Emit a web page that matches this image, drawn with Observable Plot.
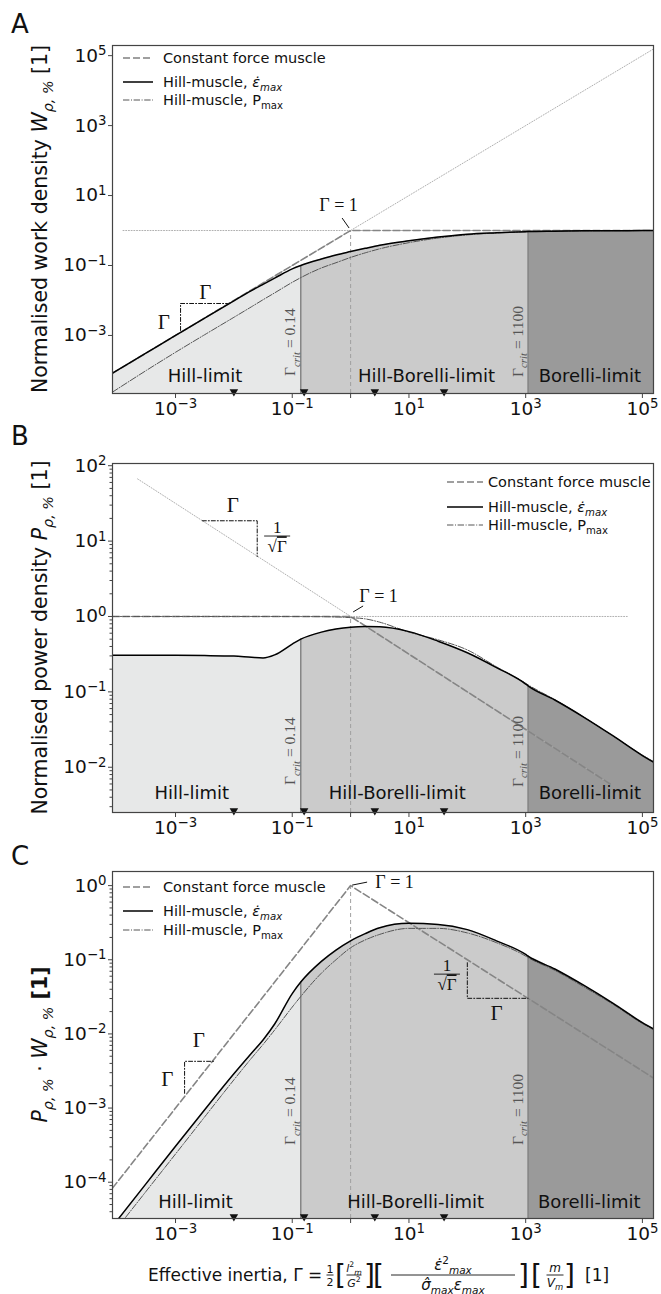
<!DOCTYPE html>
<html><head><meta charset="utf-8">
<script src="https://cdn.jsdelivr.net/npm/d3@7"></script>
<script src="https://cdn.jsdelivr.net/npm/@observablehq/plot@0.6"></script>
<style>
body{margin:0;background:#fff;width:661px;}
svg{display:block;}
</style></head><body><div id="fig"></div>
<script>
// ---------------- data ----------------
const gamma = [0.0000832, 0.000316, 0.001, 0.00316, 0.01, 0.02, 0.0316, 0.05, 0.1, 0.14, 0.316, 0.562, 1, 1.78, 3.16, 10, 31.6, 100, 316, 1000, 1100, 3160, 10000, 31600, 100000, 155000];
// Panel A: normalised work density
const workHillEps  = [0.0000832, 0.000316, 0.001, 0.00315, 0.0098, 0.0192, 0.029, 0.0435, 0.08, 0.1, 0.153, 0.2, 0.25, 0.31, 0.38, 0.51, 0.65, 0.78, 0.86, 0.93, 0.935, 0.96, 0.98, 0.99, 0.995, 0.996];
const workHillPmax = [0.000024, 0.0001, 0.00033, 0.00105, 0.0033, 0.0066, 0.0105, 0.0165, 0.033, 0.045, 0.085, 0.12, 0.17, 0.23, 0.3, 0.45, 0.61, 0.75, 0.85, 0.92, 0.925, 0.955, 0.975, 0.99, 0.995, 0.996];
const workConstX = [0.0000832, 1, 155000];
const workConstY = [0.0000832, 1, 1];
const workDiagX = [0.0000832, 155000];
const workDiagY = [0.0000832, 155000];
const workUnitX = [0.000126, 155000];
const workUnitY = [1, 1];
// Panel B: normalised power density
const powerHillEps  = [0.305, 0.305, 0.305, 0.303, 0.298, 0.287, 0.282, 0.31, 0.43, 0.5, 0.62, 0.68, 0.72, 0.735, 0.73, 0.63, 0.47, 0.33, 0.21, 0.127, 0.12, 0.078, 0.046, 0.026, 0.0143, 0.0117];
const powerHillPmax = [1, 1, 1, 1, 1, 1, 1, 1, 0.999, 0.998, 0.995, 0.985, 0.965, 0.93, 0.84, 0.62, 0.49, 0.36, 0.215, 0.13, 0.124, 0.079, 0.046, 0.026, 0.0145, 0.0119];
const powerConstX = [0.0000832, 1, 28000];
const powerConstY = [1, 1, 0.006];
const powerDiagX = [0.000224, 28000];
const powerDiagY = [66.8, 0.006];
const powerUnitX = [0.000224, 55000];
const powerUnitY = [1, 1];
// Panel C: product
const prodHillEps  = [0.0000254, 0.0000965, 0.000305, 0.00095, 0.0029, 0.0055, 0.0083, 0.0136, 0.035, 0.05, 0.095, 0.135, 0.18, 0.225, 0.27, 0.31, 0.3, 0.255, 0.18, 0.118, 0.112, 0.075, 0.045, 0.0258, 0.0142, 0.0117];
const prodHillPmax = [0.00002, 0.000076, 0.00024, 0.00076, 0.0024, 0.0047, 0.0072, 0.0113, 0.023, 0.032, 0.066, 0.1, 0.145, 0.185, 0.22, 0.265, 0.265, 0.23, 0.17, 0.112, 0.107, 0.072, 0.043, 0.025, 0.0138, 0.0114];
const prodConstX = [0.0000832, 1, 155000];
const prodConstY = [0.0000832, 1, 0.00254];

const gammaCrit = [0.14, 1100];
const critText = ["0.14", "1100"];
const regionNames = ["Hill-limit", "Hill-Borelli-limit", "Borelli-limit"];
const regionXA = [0.0032, 20, 12600];
const regionXB = [0.0019, 6.3, 12600];
const regionXC = [0.0022, 13, 12300];
const markerGamma = [0.01, 0.16, 2.6, 40];
const xTicks = [0.001, 0.1, 1, 10, 1000, 100000];
const yTicksA = [0.001, 0.1, 10, 1000, 100000];
const yTicksB = [0.01, 0.1, 1, 10, 100];
const yTicksC = [0.0001, 0.001, 0.01, 0.1, 1];
const xDomain = [0.0000832, 155000];
const yDomainA = [0.0000219, 195000];
const yDomainB = [0.00251, 107];
const yDomainC = [0.0000324, 1.55];
// slope triangles (data coordinates)
const triAX = [0.00122, 0.00122, 0.00776], triAY = [0.00139, 0.0082, 0.0082];
const triBX = [0.00288, 0.0251, 0.0251], triBY = [18.6, 18.6, 6.24];
const triC1X = [0.00143, 0.00143, 0.00447], triC1Y = [0.00158, 0.00427, 0.00427];
const triC2X = [100, 100, 1100], triC2Y = [0.0912, 0.0302, 0.0302];

// ---------------- helpers ----------------
const regionFill = ["#e7e8e8", "#cbcbcb", "#9a9a9a"];
const sup = d => { const e = Math.round(Math.log10(d)); return "10|" + (e < 0 ? "\u2212" + (-e) : String(e)); };
const fmtX = d => d === 1 ? "" : sup(d);
function minorTicks([lo, hi]) { const out = []; for (let e = -6; e <= 6; e++) for (let k = 2; k <= 9; k++) { const v = k * 10 ** e; if (v >= lo && v <= hi) out.push(v); } return out; }
const triDown = { draw(ctx, size) { const h = Math.sqrt(size) * 0.6; ctx.moveTo(-h, -h * 0.75); ctx.lineTo(h, -h * 0.75); ctx.lineTo(0, h * 0.95); ctx.closePath(); } };
const pts = (xs, ys) => xs.map((x, i) => ({x, y: ys[i]}));

function addText(sel, x, y, parts, o = {}) {
  const fs = o.size || 14;
  const t = sel.append("text").attr("x", x).attr("y", y)
    .attr("font-family", o.family || "DejaVu Sans").attr("font-size", fs).attr("fill", o.fill || "#111")
    .attr("text-anchor", o.anchor || "start");
  if (o.transform) t.attr("transform", o.transform);
  let cur = 0;
  for (const p of parts) {
    const q = typeof p === "string" ? {t: p} : p;
    const target = q.s === "sub" ? fs * 0.28 : q.s === "sup" ? -fs * 0.42 : 0;
    const ts = t.append("tspan").text(q.t);
    if (target !== cur) { ts.attr("dy", target - cur); cur = target; }
    if (q.s) ts.attr("font-size", fs * 0.7);
    if (q.f) ts.attr("font-size", fs * q.f);
    if (q.i) ts.attr("font-style", "italic");
    if (q.b) ts.attr("font-weight", "bold");
    if (q.dx) ts.attr("dx", q.dx);
  }
  return t;
}
function fixSup(svg) {
  svg.querySelectorAll("text").forEach(t => {
    const m = /^10\|(.+)$/.exec(t.textContent);
    if (m) {
      t.textContent = "10";
      const ts = document.createElementNS("http://www.w3.org/2000/svg", "tspan");
      ts.setAttribute("dy", "-0.48em"); ts.setAttribute("font-size", "0.72em"); ts.textContent = m[1];
      t.appendChild(ts);
    }
  });
}
function drawLegend(svg, x0, x1, xt, rows) {
  const g = d3.select(svg).append("g");
  const st = [{stroke: "#808080", w: 1.6, dash: "7,3"}, {stroke: "#000", w: 1.5, dash: null}, {stroke: "#555", w: 1, dash: "6.4,1.6,1,1.6"}];
  const texts = [["Constant force muscle"], ["Hill-muscle, ", {t: "\u03B5\u0307", i: 1}, {t: "max", i: 1, s: "sub"}], ["Hill-muscle, P", {t: "max", s: "sub"}]];
  rows.forEach((y, k) => {
    const l = g.append("line").attr("x1", x0).attr("x2", x1).attr("y1", y).attr("y2", y).attr("stroke", st[k].stroke).attr("stroke-width", st[k].w);
    if (st[k].dash) l.attr("stroke-dasharray", st[k].dash);
    addText(g, xt, y + 5, texts[k], {size: 14.5});
  });
}
function sqrtFrac(svg, cx, cy, size) {
  const g = d3.select(svg).append("g").attr("font-family", "Liberation Serif").attr("fill", "#111");
  g.append("text").attr("x", cx).attr("y", cy - 3).attr("text-anchor", "middle").attr("font-size", size).text("1");
  g.append("line").attr("x1", cx - 13).attr("x2", cx + 13).attr("y1", cy).attr("y2", cy).attr("stroke", "#111").attr("stroke-width", 0.9);
  const t = g.append("text").attr("x", cx).attr("y", cy + size * 0.95).attr("text-anchor", "middle").attr("font-size", size);
  t.append("tspan").text("\u221A");
  t.append("tspan").attr("text-decoration", "overline").text("\u0393");
}
function leader(svg, x, y, a, b) {
  d3.select(svg).append("line").attr("x1", x + a[0]).attr("y1", y + a[1]).attr("x2", x + b[0]).attr("y2", y + b[1]).attr("stroke", "#111").attr("stroke-width", 1);
}

function buildPanel(o) {
  const rows = gamma.map((g, i) => ({g, eps: o.eps[i], pmax: o.pmax[i]}));
  const r1 = rows.filter(d => d.g <= gammaCrit[0]);
  const r2 = rows.filter(d => d.g >= gammaCrit[0] && d.g <= gammaCrit[1]);
  const r3 = rows.filter(d => d.g >= gammaCrit[1]);
  const lo = o.yDomain[0];
  const critVals = gammaCrit.map(c => rows.find(d => d.g === c).eps);
  const dotStyle = {x: "x", y: "y", stroke: "#b0b0b0", strokeWidth: 1, strokeDasharray: "1,1.7", clip: true};
  const triStyle = {x: "x", y: "y", stroke: "#111", strokeWidth: 1, strokeDasharray: "4,2,1,2"};
  const serif = {fontFamily: "Liberation Serif", fill: "#111"};
  const svg = Plot.plot({
    width: 661, height: o.height,
    marginLeft: 112, marginRight: 8, marginTop: o.mt, marginBottom: o.mb,
    style: {fontFamily: "DejaVu Sans", fontSize: "18.5px", color: "#111", background: "#fff", overflow: "visible"},
    x: {type: "log", domain: xDomain, label: null},
    y: {type: "log", domain: o.yDomain, label: null},
    marks: [
      Plot.areaY(r1, {x: "g", y1: lo, y2: "eps", fill: regionFill[0], curve: "monotone-x", clip: true}),
      Plot.areaY(r2, {x: "g", y1: lo, y2: "eps", fill: regionFill[1], curve: "monotone-x", clip: true}),
      Plot.areaY(r3, {x: "g", y1: lo, y2: "eps", fill: regionFill[2], curve: "monotone-x", clip: true}),
      Plot.ruleX(gammaCrit, {x: d => d, y1: lo, y2: (d, i) => critVals[i], stroke: "#858585", strokeWidth: 1.5}),
      Plot.ruleX([1], {x: d => d, y1: lo, y2: 1, stroke: "#a0a0a0", strokeDasharray: "4,3", strokeWidth: 1}),
      ...o.dotted.map(s => Plot.line(pts(s[0], s[1]), dotStyle)),
      Plot.line(pts(o.constX, o.constY), {x: "x", y: "y", stroke: "#858585", strokeWidth: 1.6, strokeDasharray: "7,3", clip: true}),
      Plot.line(rows, {x: "g", y: "pmax", stroke: "#555", strokeWidth: 1, strokeDasharray: "6.4,1.6,1,1.6", curve: "monotone-x", clip: true}),
      Plot.line(rows, {x: "g", y: "eps", stroke: "#000", strokeWidth: 1.5, curve: "monotone-x", clip: true}),
      ...o.tris.map(t => Plot.line(pts(t[0], t[1]), triStyle)),
      Plot.text(o.triLabels, {x: "x", y: "y", text: "t", ...serif, fontSize: 21}),
      Plot.text(regionNames, {x: o.regionX, text: d => d, frameAnchor: "bottom", dy: o.regionDy, fontSize: 18, fill: "#111"}),
      Plot.dot(markerGamma, {x: d => d, frameAnchor: "bottom", symbol: triDown, r: 4, fill: "#111", stroke: "none", dy: -1}),
      Plot.text([1], {x: d => d, y: d => d, text: () => "\u0393 = 1", dx: o.g1[0], dy: o.g1[1], ...serif, fontSize: 18}),
      Plot.frame({stroke: "#444", strokeWidth: 1.2}),
      Plot.axisX(xTicks, {tickFormat: fmtX, tickSize: 5, tickPadding: 3, label: null, stroke: "#444"}),
      Plot.axisY(o.yTicks, {tickFormat: sup, tickSize: 4, tickPadding: 2, label: null, stroke: "#444"}),
      ...(o.minor ? [Plot.axisY(minorTicks(o.yDomain), {tickFormat: () => "", tickSize: 2.5, label: null, stroke: "#444"})] : [])
    ]
  });
  fixSup(svg);
  const sx = svg.scale("x"), sy = svg.scale("y");
  const S = d3.select(svg);
  addText(S, 11, o.letterY, [o.letter], {size: 26});
  addText(S, 0, 0, o.ylabel, {size: 20.5, anchor: "middle", transform: `translate(47,${(o.mt + o.height - o.mb) / 2}) rotate(-90)`});
  gammaCrit.forEach((c, i) => {
    addText(S, 0, 0, ["\u0393", {t: "crit", i: 1, s: "sub"}, " = " + critText[i]],
      {size: 15.5, family: "Liberation Serif", fill: "#555", transform: `translate(${sx.apply(c) - 5},${o.critBottom[i]}) rotate(-90)`});
  });
  leader(svg, sx.apply(1), sy.apply(1), o.lead[0], o.lead[1]);
  drawLegend(svg, o.legend[0], o.legend[1], o.legend[2], o.legend[3]);
  (o.fracs || []).forEach(f => sqrtFrac(svg, sx.apply(f[0]), sy.apply(f[1]), 17));
  return svg;
}

const fig = document.getElementById("fig");
const svgA = buildPanel({
  letter: "A", letterY: 33, height: 422, mt: 45, mb: 29, yDomain: yDomainA, yTicks: yTicksA, minor: false,
  eps: workHillEps, pmax: workHillPmax, constX: workConstX, constY: workConstY,
  dotted: [[workDiagX, workDiagY], [workUnitX, workUnitY]],
  tris: [[triAX, triAY]],
  triLabels: [{x: 0.00063, y: 0.00234, t: "\u0393"}, {x: 0.00324, y: 0.017, t: "\u0393"}],
  regionX: regionXA, regionDy: -12, g1: [-12, -25], lead: [[-1, -2], [-8, -12]],
  critBottom: [376, 377], legend: [123, 153, 163, [58, 82, 100]],
  ylabel: ["Normalised work density ", {t: "W", i: 1}, {t: "\u03C1, %", i: 1, s: "sub"}, " [1]"]
});
const svgB = buildPanel({
  letter: "B", letterY: 23, height: 422, mt: 41, mb: 32, yDomain: yDomainB, yTicks: yTicksB, minor: true,
  eps: powerHillEps, pmax: powerHillPmax, constX: powerConstX, constY: powerConstY,
  dotted: [[powerDiagX, powerDiagY], [powerUnitX, powerUnitY]],
  tris: [[triBX, triBY]],
  triLabels: [{x: 0.00955, y: 30.2, t: "\u0393"}],
  fracs: [[0.0562, 11.5]],
  regionX: regionXB, regionDy: -14, g1: [28, -20], lead: [[3, -4], [13, -10]],
  critBottom: [363, 365], legend: [447, 483, 488, [60, 85, 103]],
  ylabel: ["Normalised power density ", {t: "P", i: 1}, {t: "\u03C1, %", i: 1, s: "sub"}, " [1]"]
});
const svgC = buildPanel({
  letter: "C", letterY: 21, height: 450, mt: 27, mb: 76, yDomain: yDomainC, yTicks: yTicksC, minor: true,
  eps: prodHillEps, pmax: prodHillPmax, constX: prodConstX, constY: prodConstY,
  dotted: [],
  tris: [[triC1X, triC1Y], [triC2X, triC2Y]],
  triLabels: [{x: 0.000724, y: 0.00245, t: "\u0393"}, {x: 0.00251, y: 0.00813, t: "\u0393"}, {x: 316, y: 0.0188, t: "\u0393"}],
  fracs: [[45.7, 0.063]],
  regionX: regionXC, regionDy: -11, g1: [44, -3], lead: [[2, 0], [17, -3]],
  critBottom: [301, 301], legend: [123, 153, 163, [43, 67, 86]],
  ylabel: [{t: "P", i: 1}, {t: "\u03C1, %", i: 1, s: "sub"}, " \u00B7 ", {t: "W", i: 1}, {t: "\u03C1, %", i: 1, s: "sub"}, {t: " [1]", b: 1}]
});
// x-axis label with formula (panel C)
(function () {
  const g = d3.select(svgC).append("g");
  const base = 437, ax = 431;
  addText(g, 148, base, ["Effective inertia, \u0393 = "], {size: 17});
  function frac(cx, num, den, w, size, numY, denY) {
    addText(g, cx, numY, num, {size, anchor: "middle"});
    g.append("line").attr("x1", cx - w / 2).attr("x2", cx + w / 2).attr("y1", ax).attr("y2", ax).attr("stroke", "#111").attr("stroke-width", 0.9);
    addText(g, cx, denY, den, {size, anchor: "middle"});
  }
  const br = (x, c) => addText(g, x, ax + 10, [c], {size: 28});
  frac(330, ["1"], ["2"], 7, 11, ax - 2.5, ax + 10.5);
  br(335, "[");
  frac(354, [{t: "l", i: 1}, {t: "2", s: "sup"}, {t: "m", i: 1, s: "sub"}], [{t: "G", i: 1}, {t: "2", s: "sup"}], 15, 11, ax - 3.5, ax + 11.5);
  br(364, "]");
  br(373, "[");
  frac(453, [{t: "\u03B5\u0307", i: 1}, {t: "2", s: "sup"}, {t: "max", i: 1, s: "sub"}], [{t: "\u03C3\u0302", i: 1}, {t: "max", i: 1, s: "sub"}, {t: "\u03B5", i: 1}, {t: "max", i: 1, s: "sub"}], 124, 15, ax - 5, ax + 15);
  br(518, "]");
  br(531, "[");
  frac(555, [{t: "m", i: 1}], [{t: "V", i: 1}, {t: "m", i: 1, s: "sub"}], 17, 12, ax - 3, ax + 12);
  br(564, "]");
  addText(g, 585, base, ["[1]"], {size: 17});
})();
fig.append(svgA, svgB, svgC);
</script></body></html>
